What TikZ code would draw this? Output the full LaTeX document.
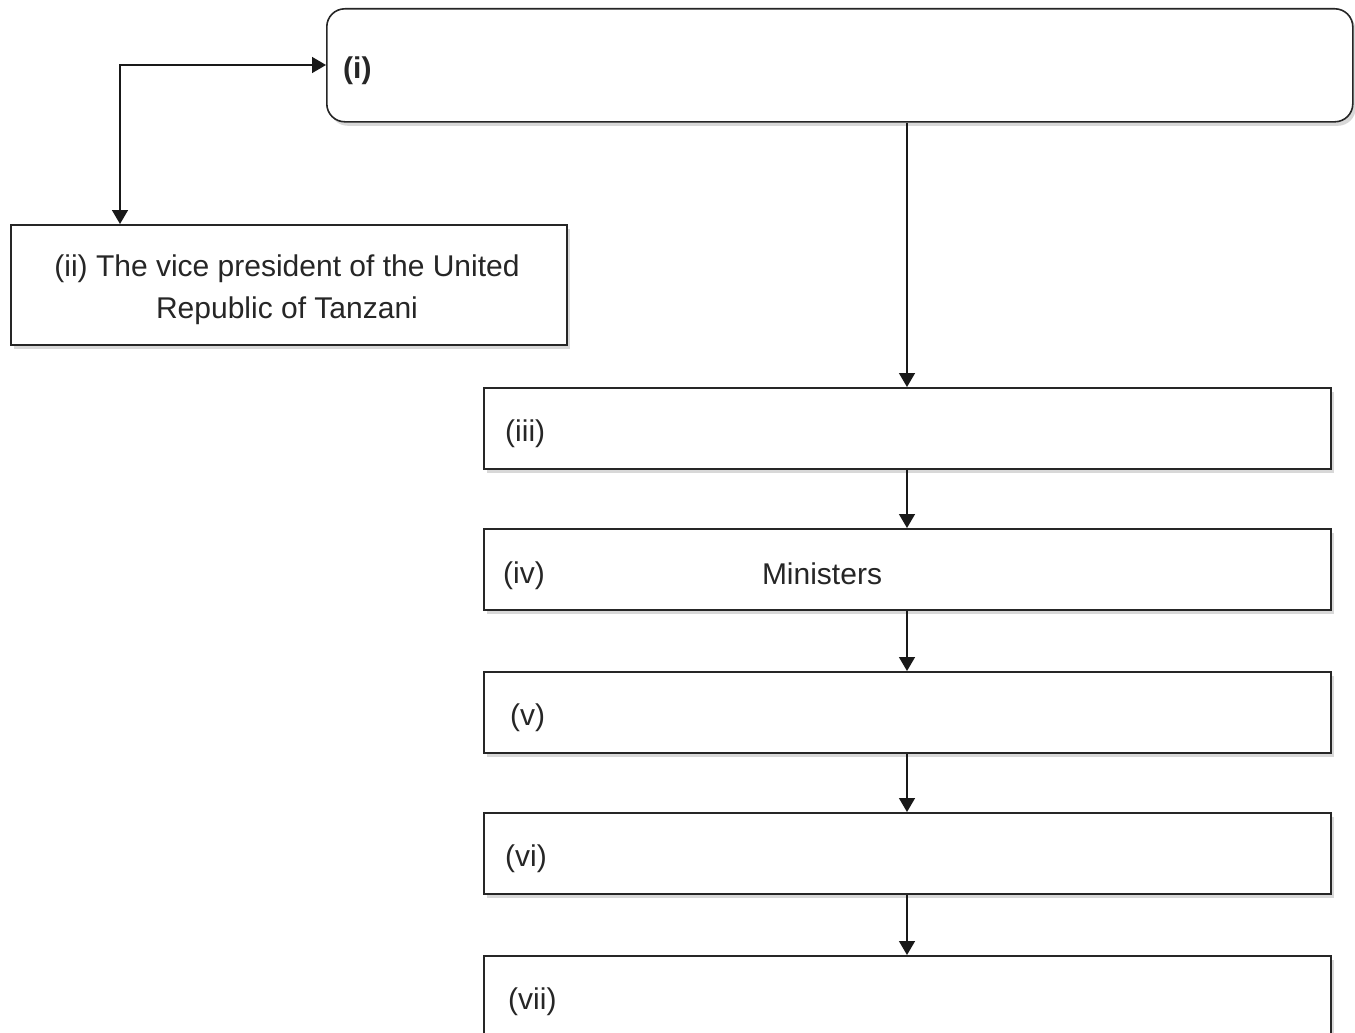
\documentclass[tikz,border=0pt]{standalone}
\usepackage{fontspec}
\setmainfont{Liberation Sans}
\usetikzlibrary{arrows.meta,shadows}
\begin{document}
\begin{tikzpicture}[x=1pt,y=-1pt,
  every node/.style={font=\fontsize{30}{42}\selectfont, text=black!85},
  box/.style={draw=black!85, line width=1.6pt, fill=white, rectangle, inner sep=0pt,
    drop shadow={shadow xshift=3pt, shadow yshift=-4pt, fill=black!25, opacity=0.6}},
  tip/.style={Triangle[length=14pt,width=16pt]},
  conn/.style={draw=black!90, line width=1.5pt, -{Triangle[length=14pt,width=16pt]}},
  lbl/.style={anchor=west, inner sep=0pt}]
\clip (0,0) rectangle (1355,1033);
\fill[white] (0,0) rectangle (1355,1033);
% boxes
\node[box, rounded corners=18pt, minimum width=1026pt, minimum height=113pt, anchor=north west] (b1) at (326,8) {};
\node[box, minimum width=556pt, minimum height=120pt, anchor=north west, align=center] (b2) at (10,224) {};
\node[align=center, inner sep=0pt] (t2) at (287,290) {(ii) The vice president of the United\\Republic of Tanzani};
\node[box, minimum width=847pt, minimum height=81pt, anchor=north west] (b3) at (483,387) {};
\node[box, minimum width=847pt, minimum height=81pt, anchor=north west] (b4) at (483,528) {};
\node[box, minimum width=847pt, minimum height=81pt, anchor=north west] (b5) at (483,671) {};
\node[box, minimum width=847pt, minimum height=81pt, anchor=north west] (b6) at (483,812) {};
\node[box, minimum width=847pt, minimum height=120pt, anchor=north west] (b7) at (483,955) {};
% labels
\node[lbl, font=\fontsize{30}{36}\selectfont\bfseries] (l1) at (343,71) {(i)};
\node[lbl] (l3) at (505,434) {(iii)};
\node[lbl] (l4) at (503,576) {(iv)};
\node[lbl] (l5) at (510,718) {(v)};
\node[lbl] (l6) at (505,859) {(vi)};
\node[lbl] (l7) at (508,1002) {(vii)};
\node[inner sep=0pt] (m4) at (822,574) {Ministers};
% connectors
\coordinate (c1) at (120,65);
\draw[conn, {Triangle[length=14pt,width=16pt]}-{Triangle[length=14pt,width=16pt]}] (b2.north -| c1) -- (c1) -- (b1.west |- c1);
\draw[conn] (b1.south -| 907,0) -- (b3.north -| 907,0);
\draw[conn] (b3.south -| 907,0) -- (b4.north -| 907,0);
\draw[conn] (b4.south -| 907,0) -- (b5.north -| 907,0);
\draw[conn] (b5.south -| 907,0) -- (b6.north -| 907,0);
\draw[conn] (b6.south -| 907,0) -- (b7.north -| 907,0);
\end{tikzpicture}
\end{document}
